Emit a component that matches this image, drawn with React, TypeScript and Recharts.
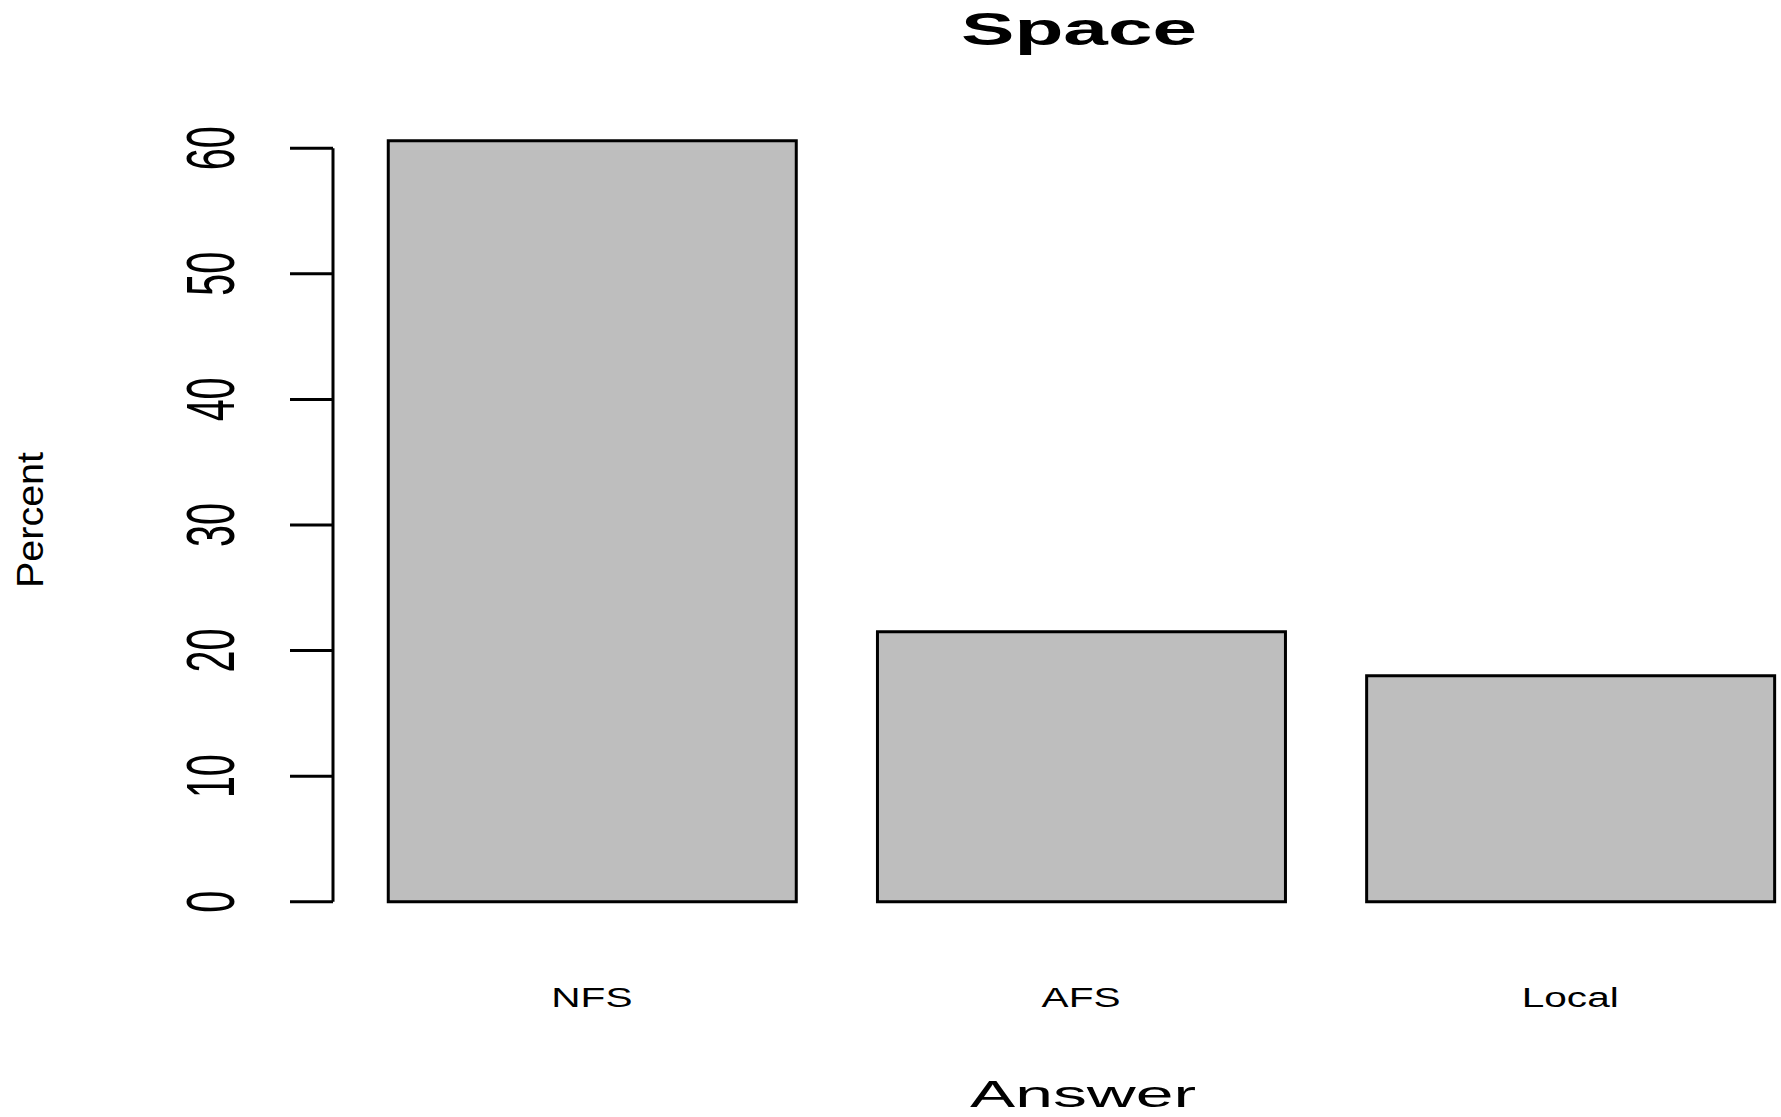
import React from 'react';
import { BarChart, Bar, XAxis, YAxis, ReferenceLine } from 'recharts';

const categories = ['NFS', 'AFS', 'Local'];
const percents = [60.6, 21.5, 18.0];
const yTicks = [0, 10, 20, 30, 40, 50, 60];
const titleText = 'Space';
const xLabelText = 'Answer';
const yLabelText = 'Percent';

// R barplot layout: bar width 1, space 0.2
const barCenters = categories.map((_, i) => 0.7 + 1.2 * i);
const data = categories.map((c, i) => ({ name: c, pos: barCenters[i], value: percents[i] }));

const X_MIN = 0.065;
const X_MAX = 3.617;
const FONT = '"Liberation Sans", Arial, Helvetica, sans-serif';

const YTick = (props: any) => {
  const { x, y, payload } = props;
  return (
    <g>
      <line x1={x - 43} x2={x} y1={y} y2={y} stroke="#000" strokeWidth={3} />
      <text
        transform={`translate(${x - 99},${y}) rotate(-90) scale(0.58,1)`}
        textAnchor="middle"
        fontFamily={FONT}
        fontSize={68}
        fill="#000"
      >
        {payload.value}
      </text>
    </g>
  );
};

const XTick = (props: any) => {
  const { x, y, payload } = props;
  const idx = barCenters.findIndex((c) => Math.abs(c - payload.value) < 1e-6);
  return (
    <text
      transform={`translate(${x},${y + 105}) scale(1.45,1)`}
      textAnchor="middle"
      fontFamily={FONT}
      fontSize={28}
      fill="#000"
    >
      {idx >= 0 ? categories[idx] : ''}
    </text>
  );
};

export default function App() {
  return (
    <div style={{ position: 'absolute', left: 0, top: 0, width: 1781, height: 1117, background: '#fff' }}>
      <BarChart
        width={1781}
        height={1117}
        data={data}
        margin={{ top: 110.6, right: 0, bottom: 115.3, left: 0 }}
      >
        <XAxis
          dataKey="pos"
          type="number"
          domain={[X_MIN, X_MAX]}
          ticks={barCenters}
          allowDataOverflow
          axisLine={false}
          tickLine={false}
          tickSize={0}
          tickMargin={0}
          height={100}
          tick={<XTick />}
          interval={0}
        />
        <YAxis
          type="number"
          domain={[0, 63]}
          ticks={yTicks}
          width={333}
          axisLine={false}
          tickLine={false}
          tickSize={0}
          tickMargin={0}
          tick={<YTick />}
          interval={0}
        />
        <ReferenceLine
          segment={[{ x: X_MIN, y: 0 }, { x: X_MIN, y: 60 }]}
          stroke="#000"
          strokeWidth={3}
          ifOverflow="visible"
        />
        <Bar
          dataKey="value"
          barSize={408}
          fill="#bebebe"
          stroke="#000"
          strokeWidth={3}
          isAnimationActive={false}
        />
      </BarChart>
      <svg
        width={1781}
        height={1117}
        style={{ position: 'absolute', left: 0, top: 0, pointerEvents: 'none' }}
      >
        <text
          x={1079}
          y={45}
          textAnchor="middle"
          fontFamily={FONT}
          fontWeight="bold"
          fontSize={46}
          textLength={236}
          lengthAdjust="spacingAndGlyphs"
          fill="#000"
        >
          {titleText}
        </text>
        <text
          x={1083}
          y={1107}
          textAnchor="middle"
          fontFamily={FONT}
          fontSize={36}
          textLength={226}
          lengthAdjust="spacingAndGlyphs"
          fill="#000"
        >
          {xLabelText}
        </text>
        <text
          transform="translate(43,520) rotate(-90)"
          textAnchor="middle"
          fontFamily={FONT}
          fontSize={36}
          textLength={136}
          lengthAdjust="spacingAndGlyphs"
          fill="#000"
        >
          {yLabelText}
        </text>
      </svg>
    </div>
  );
}
